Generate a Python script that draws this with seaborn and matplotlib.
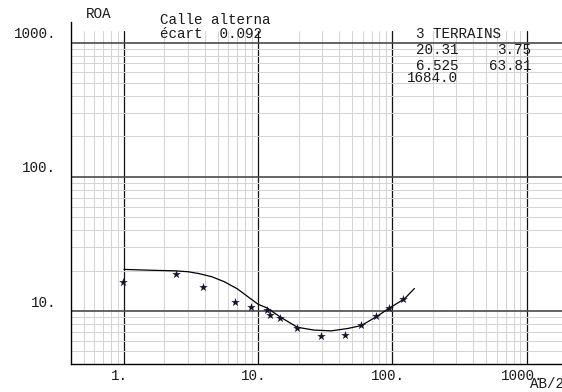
#!/usr/bin/env python3
"""Sondage electrique : resistivite apparente ROA en fonction de AB/2."""
import matplotlib
matplotlib.use('Agg')
import matplotlib.pyplot as plt
import matplotlib.ticker as mticker
import seaborn as sns

# mesures (etoiles)
ab2_mes = [0.98, 2.44, 3.9, 6.75, 8.8, 11.7, 12.2, 14.5, 19.6, 29.5, 44.0, 58.5, 76.0, 95.0, 121.0]
roa_mes = [16.5, 18.8, 15.0, 11.7, 10.7, 10.2, 9.4, 8.8, 7.4, 6.55, 6.6, 7.8, 9.2, 10.6, 12.3]

# courbe du modele
ab2_mod = [1.0, 1.6, 2.4, 3.0, 3.6, 4.5, 5.6, 7.0, 10.0, 11.7, 14.5, 19.6, 26.0, 35.0,
           46.6, 58.5, 76.0, 95.0, 123.0, 146.0]
roa_mod = [20.4, 20.1, 19.9, 19.6, 19.0, 18.0, 16.5, 14.6, 11.2, 10.5, 9.05, 7.55, 7.2, 7.1,
           7.4, 7.77, 9.05, 10.5, 12.3, 14.7]

x_ticks = [1, 10, 100, 1000]
x_labels = ['1.', '10.', '100.', '1000.']
y_ticks = [10, 100, 1000]
y_labels = ['10.', '100.', '1000.']

terrains_rho = ['20.31', '6.525', '1684.0']
terrains_h = ['3.75', '63.81']
ecart = '0.092'

sns.set_style('white')
plt.rcParams['font.family'] = ['Liberation Mono', 'DejaVu Sans Mono']
plt.rcParams['font.size'] = 10.3
TXT = '#1a1a1a'

fig = plt.figure(figsize=(5.62, 3.92), dpi=100)
ax = fig.add_axes([71 / 562, 27.7 / 392, 491 / 562, 333.3 / 392])
ax.set_xscale('log')
ax.set_yscale('log')
ax.set_xlim(0.403, 1836)
ax.set_ylim(4.0, 1222)

# grille
ax.xaxis.set_major_locator(mticker.FixedLocator(x_ticks))
ax.yaxis.set_major_locator(mticker.FixedLocator(y_ticks))
ax.xaxis.set_minor_locator(mticker.LogLocator(subs=range(2, 10)))
ax.yaxis.set_minor_locator(mticker.LogLocator(subs=range(2, 10)))
ax.grid(which='minor', color='#d4d4d4', lw=0.75)
ax.xaxis.grid(which='major', color='#111111', lw=0.9)
ax.yaxis.grid(which='major', color='#4a4a4a', lw=1.2)
ax.set_axisbelow(True)
ax.tick_params(which='both', length=0, labelleft=False, labelbottom=False)

for s in ['top', 'right']:
    ax.spines[s].set_visible(False)
ax.spines['left'].set_color('#000000')
ax.spines['bottom'].set_color('#000000')
ax.spines['left'].set_linewidth(1.0)
ax.spines['bottom'].set_linewidth(1.0)
ax.spines['left'].set_bounds(4.0, 1426)

sns.lineplot(x=ab2_mod, y=roa_mod, ax=ax, color='#000000', lw=0.9,
             estimator=None, sort=False)
sns.scatterplot(x=ab2_mes, y=roa_mes, ax=ax, marker='*', s=42,
                color='#14142e', linewidth=0, zorder=3)
ax.set_xlabel('')
ax.set_ylabel('')

# etiquettes des axes
for v, lab in zip(y_ticks, y_labels):
    ax.annotate(lab, xy=(0, v), xycoords=('axes fraction', 'data'),
                xytext=(-10.5, 6), textcoords='offset points',
                ha='right', va='center', color=TXT)
for v, lab in zip(x_ticks, x_labels):
    ax.annotate(lab, xy=(v, 0), xycoords=('data', 'axes fraction'),
                xytext=(-3.5, -8.5), textcoords='offset points',
                ha='center', va='center', color=TXT)


def ftxt(x, y, s, ha='left'):
    fig.text(x / 562, 1 - y / 392, s, ha=ha, va='center', color=TXT)


ftxt(86, 14, 'ROA')
ftxt(530, 383.5, 'AB/2')
ftxt(160, 19.5, 'Calle alterna')
ftxt(160, 33.5, 'écart  ' + ecart)
ftxt(416, 33.5, '3 TERRAINS')
ftxt(416, 50.5, terrains_rho[0])
ftxt(531, 50.5, terrains_h[0], ha='right')
ftxt(416, 66, terrains_rho[1])
ftxt(531, 66, terrains_h[1], ha='right')
ftxt(407, 78.5, terrains_rho[2])

fig.savefig('out.png', dpi=100)
